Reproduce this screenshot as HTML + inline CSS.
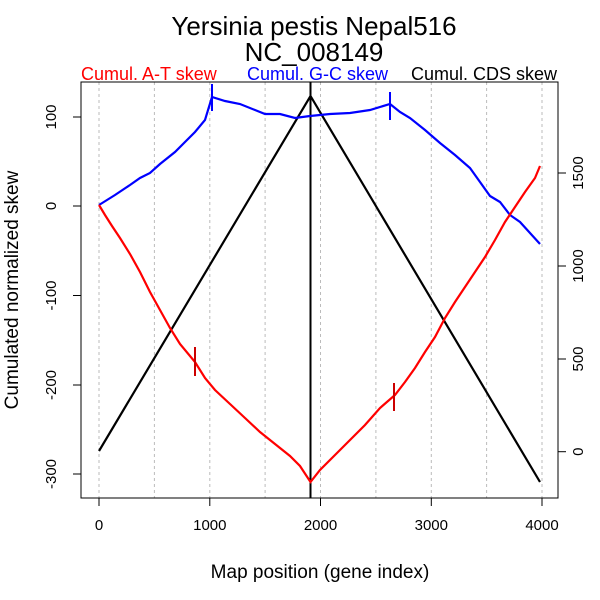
<!DOCTYPE html>
<html><head><style>body{margin:0;background:#fff}svg{display:block}text{font-family:"Liberation Sans",sans-serif}</style></head>
<body>
<svg width="600" height="600" viewBox="0 0 600 600">
<g stroke="#bbb" stroke-dasharray="3,3" stroke-width="1">
<line x1="99" y1="82" x2="99" y2="498"/><line x1="154.4" y1="82" x2="154.4" y2="498"/><line x1="209.8" y1="82" x2="209.8" y2="498"/><line x1="265.1" y1="82" x2="265.1" y2="498"/><line x1="320.5" y1="82" x2="320.5" y2="498"/><line x1="375.9" y1="82" x2="375.9" y2="498"/><line x1="431.3" y1="82" x2="431.3" y2="498"/><line x1="486.6" y1="82" x2="486.6" y2="498"/><line x1="542" y1="82" x2="542" y2="498"/>
</g>
<rect x="81" y="82" width="477" height="416" fill="none" stroke="#000"/>
<g stroke="#000">
<line x1="99" y1="498" x2="99" y2="506"/><line x1="209.8" y1="498" x2="209.8" y2="506"/><line x1="320.5" y1="498" x2="320.5" y2="506"/><line x1="431.3" y1="498" x2="431.3" y2="506"/><line x1="542" y1="498" x2="542" y2="506"/>
<line x1="81" y1="117" x2="73" y2="117"/><line x1="81" y1="206" x2="73" y2="206"/><line x1="81" y1="295.5" x2="73" y2="295.5"/><line x1="81" y1="385" x2="73" y2="385"/><line x1="81" y1="474" x2="73" y2="474"/>
<line x1="558" y1="451.7" x2="566" y2="451.7"/><line x1="558" y1="359" x2="566" y2="359"/><line x1="558" y1="266" x2="566" y2="266"/><line x1="558" y1="173" x2="566" y2="173"/>
</g>
<g font-size="15" fill="#000" text-anchor="middle">
<text x="99" y="530">0</text><text x="209.8" y="530">1000</text><text x="320.5" y="530">2000</text><text x="431.3" y="530">3000</text><text x="542" y="530">4000</text>
<text transform="translate(56,117) rotate(-90)">100</text><text transform="translate(56,206) rotate(-90)">0</text><text transform="translate(56,295.5) rotate(-90)">-100</text><text transform="translate(56,385) rotate(-90)">-200</text><text transform="translate(56,474) rotate(-90)">-300</text>
<text transform="translate(583,451.7) rotate(-90)">0</text><text transform="translate(583,359) rotate(-90)">500</text><text transform="translate(583,266) rotate(-90)">1000</text><text transform="translate(583,173) rotate(-90)">1500</text>
</g>
<text x="320" y="578" font-size="19" text-anchor="middle">Map position (gene index)</text>
<text transform="translate(18,290) rotate(-90)" font-size="19" text-anchor="middle">Cumulated normalized skew</text>
<text x="314" y="35" font-size="26" text-anchor="middle">Yersinia pestis Nepal516</text>
<text x="314" y="61" font-size="26" text-anchor="middle">NC_008149</text>
<text x="81" y="80" font-size="18" fill="#f00">Cumul. A-T skew</text>
<text x="247" y="80" font-size="18" fill="#00f">Cumul. G-C skew</text>
<text x="557" y="80" font-size="18" fill="#000" text-anchor="end">Cumul. CDS skew</text>
<polyline fill="none" stroke="#000" stroke-width="2.2" points="99,451 310.5,96 540,482"/>
<line x1="310.5" y1="82" x2="310.5" y2="498" stroke="#000" stroke-width="2"/>
<polyline fill="none" stroke="#00f" stroke-width="2.2" points="99,205 115,195 130,185 140,178 150,173 160,164 175,152 185,142 195,132 205,120 212,97 225,101 240,104 255,110 265,114 280,114 295,118 310,116 330,114 350,113 370,110 390,104 400,112 410,118 425,130 440,143 455,155 470,168 480,182 490,196 500,202 510,215 520,222 530,233 540,244"/>
<polyline fill="none" stroke="#f00" stroke-width="2.2" points="99,205 105,215 112,226 120,238 130,254 140,272 150,292 160,310 170,328 180,344 195,362 205,378 215,390 230,404 245,418 260,432 275,444 290,456 300,466 310.5,482 320,470 335,455 350,440 365,425 380,408 395,395 405,382 415,368 425,352 435,337 445,318 455,302 465,287 475,272 485,257 495,240 505,222 515,207 525,192 535,178 540,166"/>
<line x1="212" y1="84" x2="212" y2="111" stroke="#00f" stroke-width="2"/>
<line x1="390" y1="92" x2="390" y2="120" stroke="#00f" stroke-width="2"/>
<line x1="195" y1="347" x2="195" y2="376" stroke="#c00" stroke-width="2"/>
<line x1="394" y1="383" x2="394" y2="411" stroke="#c00" stroke-width="2"/>
</svg>
</body></html>
